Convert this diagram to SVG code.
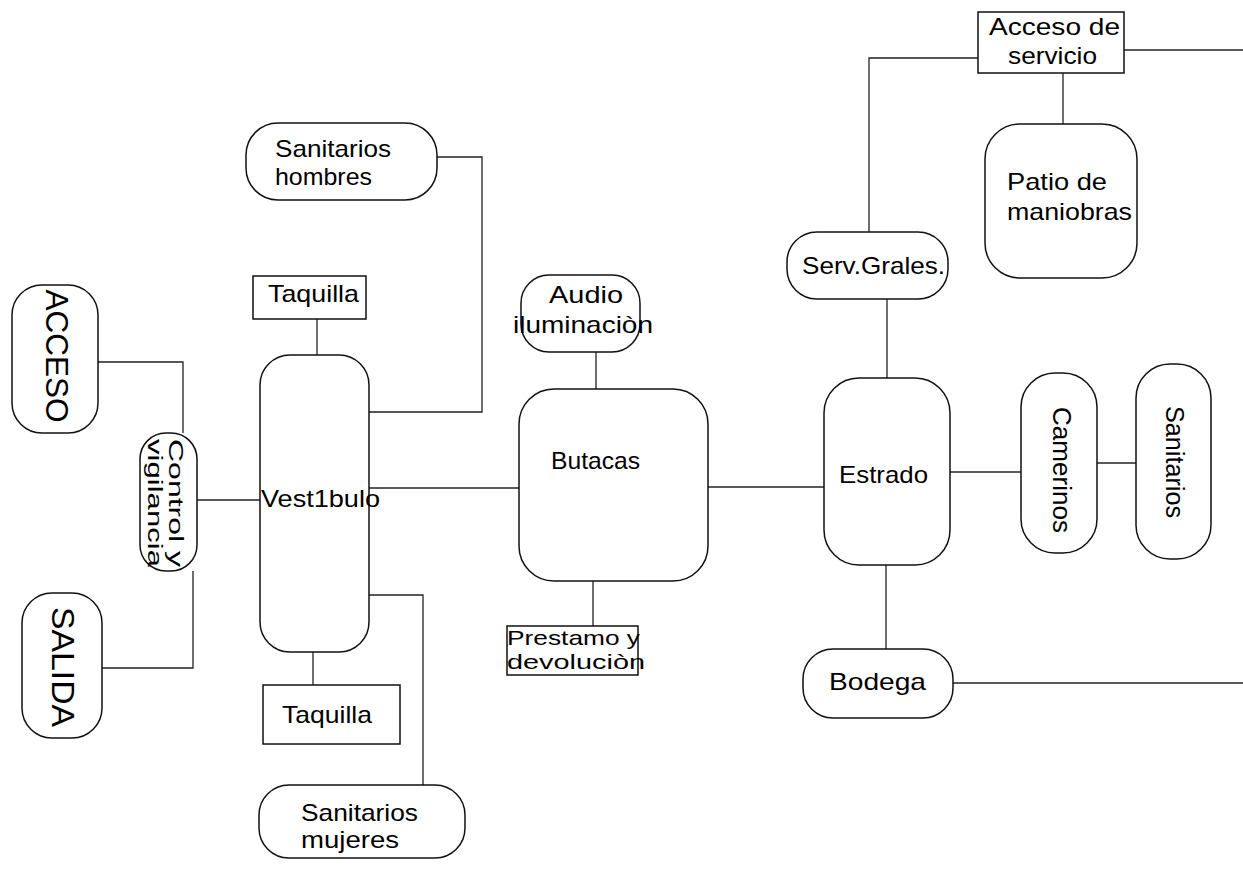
<svg xmlns="http://www.w3.org/2000/svg" width="1243" height="886" viewBox="0 0 1243 886">
  <style>
    .box { fill: #fff; stroke: #111; stroke-width: 1.5; }
    .wire { fill: none; stroke: #222; stroke-width: 1.3; }
    text { font-family: "Liberation Sans", Arial, sans-serif; font-size: 24px; fill: #000; }
    .big { font-size: 32px; }
    .mid { font-size: 26px; }
    .sm { font-size: 21px; }
  </style>
  <rect width="1243" height="886" fill="#fff"/>

  <!-- connectors -->
  <g id="connectors">
    <polyline class="wire" points="98,362 183,362 183,433"/>
    <polyline class="wire" points="193,571 193,668 102,668"/>
    <line class="wire" x1="197" y1="500" x2="260" y2="500"/>
    <line class="wire" x1="317" y1="319" x2="317" y2="355"/>
    <line class="wire" x1="313" y1="652" x2="313" y2="685"/>
    <polyline class="wire" points="369,412 482,412 482,157 437,157"/>
    <polyline class="wire" points="369,595 423,595 423,785"/>
    <line class="wire" x1="369" y1="488" x2="519" y2="488"/>
    <line class="wire" x1="596" y1="352" x2="596" y2="389"/>
    <line class="wire" x1="593" y1="581" x2="593" y2="626"/>
    <line class="wire" x1="708" y1="487" x2="824" y2="487"/>
    <line class="wire" x1="950" y1="472" x2="1021" y2="472"/>
    <line class="wire" x1="1097" y1="463" x2="1136" y2="463"/>
    <line class="wire" x1="887" y1="299" x2="887" y2="378"/>
    <line class="wire" x1="886" y1="565" x2="886" y2="649"/>
    <line class="wire" x1="953" y1="683" x2="1243" y2="683"/>
    <polyline class="wire" points="869,232 869,58 978,58"/>
    <line class="wire" x1="1124" y1="50" x2="1243" y2="50"/>
    <line class="wire" x1="1063" y1="73" x2="1063" y2="124"/>
  </g>

  <!-- entrance side -->
  <g id="acceso">
    <rect class="box" x="12" y="285" width="86" height="148" rx="30"/>
    <text class="big" transform="translate(57,356) rotate(90)" x="0" y="11.5" text-anchor="middle" textLength="133" lengthAdjust="spacingAndGlyphs">ACCESO</text>
  </g>
  <g id="control">
    <rect class="box" x="140" y="433" width="57" height="138" rx="26"/>
    <text class="sm" transform="translate(169,503) rotate(90)" x="0" y="0" text-anchor="middle" textLength="128" lengthAdjust="spacingAndGlyphs">Control y</text>
    <text class="sm" transform="translate(148,503) rotate(90)" x="0" y="0" text-anchor="middle" textLength="128" lengthAdjust="spacingAndGlyphs">vigilancia</text>
  </g>
  <g id="salida">
    <rect class="box" x="22" y="593" width="80" height="145" rx="30"/>
    <text class="big" transform="translate(63,667) rotate(90)" x="0" y="11.5" text-anchor="middle" textLength="120" lengthAdjust="spacingAndGlyphs">SALIDA</text>
  </g>

  <!-- lobby cluster -->
  <g id="vestibulo">
    <rect class="box" x="260" y="355" width="109" height="297" rx="30"/>
    <text x="261" y="507" textLength="119" lengthAdjust="spacingAndGlyphs">Vest1bulo</text>
  </g>
  <g id="taquilla-norte">
    <rect class="box" x="253" y="276" width="113" height="43"/>
    <text x="268" y="302" textLength="91" lengthAdjust="spacingAndGlyphs">Taquilla</text>
  </g>
  <g id="taquilla-sur">
    <rect class="box" x="263" y="685" width="137" height="59"/>
    <text x="282" y="723" textLength="90" lengthAdjust="spacingAndGlyphs">Taquilla</text>
  </g>
  <g id="sanitarios-hombres">
    <rect class="box" x="246" y="123" width="191" height="77" rx="32"/>
    <text x="275" y="157" textLength="116" lengthAdjust="spacingAndGlyphs">Sanitarios</text>
    <text x="275" y="185" textLength="97" lengthAdjust="spacingAndGlyphs">hombres</text>
  </g>
  <g id="sanitarios-mujeres">
    <rect class="box" x="259" y="785" width="206" height="73" rx="30"/>
    <text x="301" y="821" textLength="117" lengthAdjust="spacingAndGlyphs">Sanitarios</text>
    <text x="301" y="848" textLength="98" lengthAdjust="spacingAndGlyphs">mujeres</text>
  </g>

  <!-- auditorium -->
  <g id="butacas">
    <rect class="box" x="519" y="389" width="189" height="192" rx="35"/>
    <text x="551" y="469" textLength="89" lengthAdjust="spacingAndGlyphs">Butacas</text>
  </g>
  <g id="audio">
    <rect class="box" x="521" y="275" width="119" height="77" rx="28"/>
    <text x="549" y="303" textLength="74" lengthAdjust="spacingAndGlyphs">Audio</text>
    <text x="513" y="333" textLength="140" lengthAdjust="spacingAndGlyphs">iluminaciòn</text>
  </g>
  <g id="prestamo">
    <rect class="box" x="507" y="626" width="131" height="49"/>
    <text class="sm" x="507" y="645" textLength="133" lengthAdjust="spacingAndGlyphs">Prestamo y</text>
    <text class="sm" x="507" y="669" textLength="138" lengthAdjust="spacingAndGlyphs">devoluciòn</text>
  </g>

  <!-- stage side -->
  <g id="estrado">
    <rect class="box" x="824" y="378" width="126" height="187" rx="35"/>
    <text x="839" y="483" textLength="89" lengthAdjust="spacingAndGlyphs">Estrado</text>
  </g>
  <g id="camerinos">
    <rect class="box" x="1021" y="373" width="76" height="180" rx="34"/>
    <text class="mid" transform="translate(1062,470) rotate(90)" x="0" y="9" text-anchor="middle" textLength="126" lengthAdjust="spacingAndGlyphs">Camerinos</text>
  </g>
  <g id="sanitarios-camerinos">
    <rect class="box" x="1136" y="364" width="75" height="195" rx="34"/>
    <text class="mid" transform="translate(1175,462) rotate(90)" x="0" y="9" text-anchor="middle" textLength="112" lengthAdjust="spacingAndGlyphs">Sanitarios</text>
  </g>
  <g id="bodega">
    <rect class="box" x="803" y="649" width="150" height="69" rx="30"/>
    <text x="829" y="690" textLength="97" lengthAdjust="spacingAndGlyphs">Bodega</text>
  </g>
  <g id="serv-grales">
    <rect class="box" x="787" y="232" width="161" height="67" rx="30"/>
    <text x="802" y="274" textLength="143" lengthAdjust="spacingAndGlyphs">Serv.Grales.</text>
  </g>

  <!-- service yard -->
  <g id="acceso-servicio">
    <rect class="box" x="978" y="12" width="146" height="61"/>
    <text x="989" y="35" textLength="131" lengthAdjust="spacingAndGlyphs">Acceso de</text>
    <text x="1008" y="64" textLength="89" lengthAdjust="spacingAndGlyphs">servicio</text>
  </g>
  <g id="patio">
    <rect class="box" x="985" y="124" width="152" height="154" rx="35"/>
    <text x="1007" y="190" textLength="100" lengthAdjust="spacingAndGlyphs">Patio de</text>
    <text x="1007" y="220" textLength="125" lengthAdjust="spacingAndGlyphs">maniobras</text>
  </g>
</svg>
